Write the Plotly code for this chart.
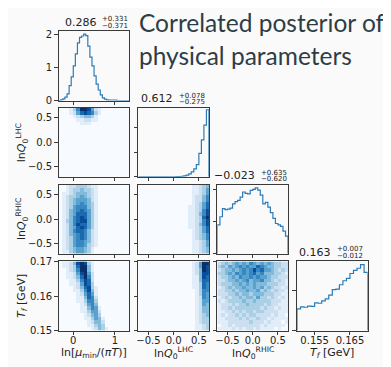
import plotly.graph_objects as go

W, H = 391, 367
OFF = 8  # page offset of the figure inside the browser window

# ---------------- data ----------------
param_ranges = [[-0.35, 1.35], [-0.7, 0.7], [-0.7, 0.7], [0.15, 0.17]]
x_tickvals = [[0, 1], [-0.5, 0.0, 0.5], [-0.5, 0.0, 0.5], [0.155, 0.165]]
x_ticktext = [["0", "1"], ["−0.5", "0.0", "0.5"], ["−0.5", "0.0", "0.5"], ["0.155", "0.165"]]
y_tickvals = [[0, 1, 2], [-0.5, 0.0, 0.5], [-0.5, 0.0, 0.5], [0.15, 0.16, 0.17]]
y_ticktext = [["0", "1", "2"], ["−0.5", "0.0", "0.5"], ["−0.5", "0.0", "0.5"], ["0.15", "0.16", "0.17"]]

x_labels = ["ln[<i>μ</i><sub>min</sub>/(<i>πT</i>)]",
            "ln<i>Q</i><sub>0</sub><sup>LHC</sup>",
            "ln<i>Q</i><sub>0</sub><sup>RHIC</sup>",
            "<i>T</i><sub><i>f</i></sub> [GeV]"]
y_labels = [None,
            "ln<i>Q</i><sub>0</sub><sup>LHC</sup>",
            "ln<i>Q</i><sub>0</sub><sup>RHIC</sup>",
            "<i>T</i><sub><i>f</i></sub> [GeV]"]

medians = ["0.286", "0.612", "−0.023", "0.163"]
err_plus = ["+0.331", "+0.078", "+0.635", "+0.007"]
err_minus = ["−0.371", "−0.275", "−0.620", "−0.012"]

# 1D marginal histograms (bin width, values)
hist_mu_width = 0.05
hist_mu = [0.0, 0.02, 0.05, 0.10, 0.20, 0.45, 0.72, 1.05, 1.42, 1.75, 1.92, 1.96,
           2.02, 1.97, 1.65, 1.32, 1.05, 0.75, 0.50, 0.32, 0.17, 0.08, 0.04, 0.02,
           0.01, 0.01, 0.01, 0.01, 0.0, 0.0, 0.0, 0.0, 0.0, 0.0]
hist_lhc_width = 0.05
hist_lhc = [0.0, 0.0, 0.0, 0.0, 0.0, 0.0, 0.0, 0.0, 0.0, 0.0, 0.0, 0.003, 0.003, 0.004,
            0.005, 0.01, 0.015, 0.025, 0.04, 0.07, 0.12, 0.20, 0.32, 0.50, 0.95, 1.50,
            2.10, 2.72]
hist_rhic_width = 0.05
hist_rhic = [0.90, 1.15, 1.40, 1.37, 1.39, 1.42, 1.55, 1.62, 1.66, 1.76, 1.92, 1.88,
             1.86, 1.97, 2.00, 2.05, 1.98, 1.82, 1.55, 1.60, 1.45, 1.28, 1.10, 0.94,
             0.90, 0.85, 0.70, 0.55]
hist_tf_width = 0.001
hist_tf = [0.54, 0.59, 0.58, 0.61, 0.60, 0.69, 0.68, 0.74, 0.79, 0.88, 1.02, 1.03,
           1.14, 1.24, 1.30, 1.42, 1.50, 1.55, 1.64, 1.45]
hist_y_ranges = [[0, 2.1], [0, 2.8], [0, 2.15], [0, 1.72]]
hist_y_ticks = [[0, 1, 2], [0, 1, 2], [0, 1, 2], [0, 1]]

# 2D histograms: 20x20 density levels (0-9), rows listed top (high y) to bottom
grid_lhc_mu = [
    "00013699852100000000",
    "00012578763100000000",
    "00001234431000000000",
    "00000112211000000000",
    "00000011100000000000",
] + ["00000000000000000000"] * 15
grid_rhic_mu = [
    "00122333211000000000",
    "00123343321000000000",
    "01123444321000000000",
    "01233454321000000000",
    "01234555421000000000",
    "01234565431000000000",
    "01235666431000000000",
    "01245676531000000000",
    "01245777531000000000",
    "01246787531000000000",
    "01346788531000000000",
    "01246877531000000000",
    "01245787531000000000",
    "01246776421000000000",
    "01245676421000000000",
    "01235676421000000000",
    "01235665421000000000",
    "01235665321000000000",
    "01234554310000000000",
    "01134554310000000000",
]
grid_rhic_lhc = [
    "00000000000000011234",
    "00000000000000011235",
    "00000000000000011235",
    "00000000000000012246",
    "00000000000000012246",
    "00000000000000012357",
    "00000000000000112357",
    "00000000000000112368",
    "00000000000000112468",
    "00000000000000112379",
    "00000000000000112368",
    "00000000000000112468",
    "00000000000000112357",
    "00000000000000012357",
    "00000000000000012346",
    "00000000000000012346",
    "00000000000000011235",
    "00000000000000011235",
    "00000000000000011234",
    "00000000000000011234",
]
grid_tf_mu = [
    "01124898310000000000",
    "01123799410000000000",
    "00123699410000000000",
    "00112589520000000000",
    "00112479620000000000",
    "00011368720000000000",
    "00011258730000000000",
    "00001247831000000000",
    "00001136841000000000",
    "00000125751000000000",
    "00000114762000000000",
    "00000113663000000000",
    "00000012564000000000",
    "00000011465100000000",
    "00000011355200000000",
    "00000001245300000000",
    "00000001135410000000",
    "00000000124420000000",
    "00000000113430000000",
    "00000000012431000000",
]
grid_tf_lhc = [
    "00000000000000012599",
    "00000000000000012598",
    "00000000000000012498",
    "00000000000000012488",
    "00000000000000011487",
    "00000000000000011477",
    "00000000000000011376",
    "00000000000000011376",
    "00000000000000001366",
    "00000000000000001365",
    "00000000000000001265",
    "00000000000000001255",
    "00000000000000001254",
    "00000000000000001244",
    "00000000000000001244",
    "00000000000000001234",
    "00000000000000001233",
    "00000000000000001233",
    "00000000000000001123",
    "00000000000000001123",
]
grid_tf_rhic = [
    "23434545465454543322",
    "34354565655765443322",
    "23445456568675543232",
    "33454656567564443321",
    "23345465565655433222",
    "22344545645564432321",
    "23334454545444333221",
    "12343445445453432212",
    "22334344544534323221",
    "22233434434443332211",
    "12323343443533232121",
    "21233334334333322211",
    "12223233433332322111",
    "12232333333323221211",
    "11223232332332222111",
    "12122323233222212110",
    "11222232322322121111",
    "11122222232221211101",
    "01121222222212111110",
    "11112121221211110100",
]

grids = {(1, 0): grid_lhc_mu, (2, 0): grid_rhic_mu, (2, 1): grid_rhic_lhc,
         (3, 0): grid_tf_mu, (3, 1): grid_tf_lhc, (3, 2): grid_tf_rhic}
hists = [(hist_mu, hist_mu_width), (hist_lhc, hist_lhc_width),
         (hist_rhic, hist_rhic_width), (hist_tf, hist_tf_width)]

# ---------------- layout geometry (window pixels) ----------------
col_left = [57, 137, 216.5, 296.5]
row_top = [26, 105, 184.5, 264]
PW, PH = 71, 71.5
FW, FH = W - OFF, H - OFF


def px(x):
    return (x - OFF) / FW


def py(y):
    return 1 - (y - OFF) / FH


blues = ['#f7fbff', '#deebf7', '#c6dbef', '#9ecae1', '#6baed6',
         '#4292c6', '#2171b5', '#08519c', '#08306b']
colorscale = [[i / (len(blues) - 1), c] for i, c in enumerate(blues)]

TEXT = '#222222'
AX = '#3a3a3a'
FONT = 'DejaVu Sans'

fig = go.Figure()
layout = dict(width=FW, height=FH, autosize=False,
              margin=dict(l=0, r=0, t=0, b=0, pad=0),
              paper_bgcolor='#fafafa', plot_bgcolor='#fafafa',
              showlegend=False, font=dict(family=FONT, color=TEXT))
annotations = []

k = 0
for r in range(4):
    for c in range(r + 1):
        k += 1
        xs = '' if k == 1 else str(k)
        x0, y0 = col_left[c], row_top[r]
        xd = [px(x0), px(x0 + PW)]
        yd = [py(y0 + PH), py(y0)]
        common = dict(showline=True, mirror=True, linecolor=AX, linewidth=1,
                      ticks='outside', ticklen=3.5, tickwidth=1, tickcolor=AX,
                      showgrid=False, zeroline=False,
                      tickfont=dict(size=10, color=TEXT, family=FONT))
        layout['xaxis' + xs] = dict(domain=xd, range=param_ranges[c], anchor='y' + xs,
                                    tickmode='array', tickvals=x_tickvals[c],
                                    ticktext=x_ticktext[c], showticklabels=(r == 3),
                                    ticklabelstandoff=-3, **common)
        if r == c:
            vals, wdt = hists[c]
            lo = param_ranges[c][0]
            edges = [lo + wdt * i for i in range(len(vals) + 1)]
            xsdat = [edges[0]] + edges[:-1] + [edges[-1], edges[-1]]
            ysdat = [0] + vals + [vals[-1], 0]
            fig.add_trace(go.Scatter(x=xsdat, y=ysdat, mode='lines',
                                     line=dict(color='#2c7bb6', width=1.2, shape='hv'),
                                     xaxis='x' + xs, yaxis='y' + xs, hoverinfo='skip'))
            layout['yaxis' + xs] = dict(domain=yd, range=hist_y_ranges[c], anchor='x' + xs,
                                        tickmode='array', tickvals=hist_y_ticks[c],
                                        ticktext=[str(v) for v in hist_y_ticks[c]],
                                        showticklabels=(c == 0), **common)
            # title: median with errors
            cx = [97, 174.3, 256.7, 333][c]
            annotations.append(dict(text=medians[c], x=px(cx), y=py(y0 - 9.3),
                                    xref='paper', yref='paper', xanchor='right', yanchor='middle',
                                    showarrow=False, font=dict(size=11, color=TEXT, family=FONT)))
            annotations.append(dict(text=err_plus[c], x=px(cx + 1.5), y=py(y0 - 12.5),
                                    xref='paper', yref='paper', xanchor='left', yanchor='middle',
                                    showarrow=False, font=dict(size=7, color=TEXT, family=FONT)))
            annotations.append(dict(text=err_minus[c], x=px(cx + 1.5), y=py(y0 - 5.5),
                                    xref='paper', yref='paper', xanchor='left', yanchor='middle',
                                    showarrow=False, font=dict(size=7, color=TEXT, family=FONT)))
        else:
            rows = grids[(r, c)]
            z = [[int(ch) for ch in row] for row in reversed(rows)]
            nx, ny = len(z[0]), len(z)
            xl, xh = param_ranges[c]
            yl, yh = param_ranges[r]
            xc = [xl + (xh - xl) * (i + 0.5) / nx for i in range(nx)]
            yc = [yl + (yh - yl) * (j + 0.5) / ny for j in range(ny)]
            fig.add_trace(go.Heatmap(z=z, x=xc, y=yc, colorscale=colorscale, zmin=0, zmax=9,
                                     showscale=False, xaxis='x' + xs, yaxis='y' + xs,
                                     hoverinfo='skip'))
            layout['yaxis' + xs] = dict(domain=yd, range=param_ranges[r], anchor='x' + xs,
                                        tickmode='array', tickvals=y_tickvals[r],
                                        ticktext=y_ticktext[r], showticklabels=(c == 0),
                                        **common)

# axis labels
for c in range(4):
    annotations.append(dict(text=x_labels[c], x=px(col_left[c] + PW / 2), y=py(359),
                            xref='paper', yref='paper', xanchor='center', yanchor='middle',
                            showarrow=False, font=dict(size=11, color=TEXT, family=FONT)))
for r in range(1, 4):
    annotations.append(dict(text=y_labels[r], x=px(20), y=py(row_top[r] + PH / 2),
                            xref='paper', yref='paper', xanchor='center', yanchor='middle',
                            textangle=-90, showarrow=False,
                            font=dict(size=11, color=TEXT, family=FONT)))

# slide title
title_lines = ["Correlated posterior of", "physical parameters"]
for i, line in enumerate(title_lines):
    annotations.append(dict(text=line, x=px(136), y=py(17 + 34 * i),
                            xref='paper', yref='paper', xanchor='left', yanchor='middle',
                            showarrow=False, font=dict(size=24.5, color='#2e3d45', family='Lato')))

layout['annotations'] = annotations
fig.update_layout(**layout)
fig.write_html("out.html")
